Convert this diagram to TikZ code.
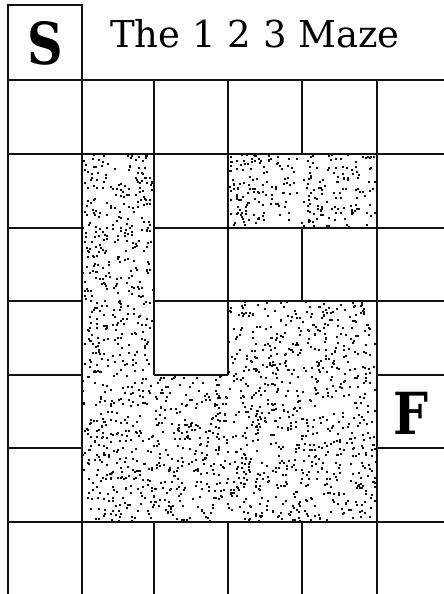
\documentclass[tikz,border=0pt]{standalone}
\usepackage{fontspec}
\setmainfont{DejaVu Serif}
\newfontfamily\cellfont{DejaVu Serif}[FakeStretch=0.85]
\usepackage{tikz}
\definecolor{mazeink}{HTML}{111111}

% random speckles in a box: x0,y0,x1,y1,count
\newcommand{\speckle}[5]{%
  \foreach \k in {1,...,#5}
    \fill[mazeink] ({#1+(#3-#1-2)*rnd},{#2+(#4-#2-2)*rnd}) rectangle ++(2,2);%
}

\begin{document}
\begin{tikzpicture}[x=1pt,y=-1pt]
    \useasboundingbox (0,0) rectangle (444,594);
    \pgfmathsetseed{4242}
    % shaded walls
    \speckle{82}{154}{154}{375}{380}
    \speckle{82}{375}{377}{522}{1030}
    \speckle{228}{301}{377}{375}{260}
    \speckle{228}{154}{377}{228}{260}
    % grid
    \begin{scope}[line width=1.5pt,mazeink]
    \draw (8,594) -- (8,5) -- (82,5) -- (82,594);
    \draw (8,80) -- (444,80);
    \draw (8,154) -- (444,154);
    \draw (8,228) -- (82,228) (154,228) -- (444,228);
    \draw (8,301) -- (82,301) (154,301) -- (444,301);
    \draw (8,375) -- (82,375) (154,375) -- (228,375) (377,375) -- (444,375);
    \draw (8,448) -- (82,448) (377,448) -- (444,448);
    \draw (8,522) -- (444,522);
    \draw (154,80) -- (154,375) (154,522) -- (154,594);
    \draw (228,80) -- (228,375) (228,522) -- (228,594);
    \draw (302,80) -- (302,154) (302,228) -- (302,301) (302,522) -- (302,594);
    \draw (377,80) -- (377,594);
    \end{scope}
    \node[font=\cellfont\bfseries\fontsize{58}{58}\selectfont] (start) at (45.5,43) {S};
    \node[font=\fontsize{37}{37}\selectfont] (title) at (255,34) {The 1 2 3 Maze};
    \node[font=\cellfont\bfseries\fontsize{58}{58}\selectfont] (finish) at (410.5,413) {F};
  \end{tikzpicture}
\end{document}
